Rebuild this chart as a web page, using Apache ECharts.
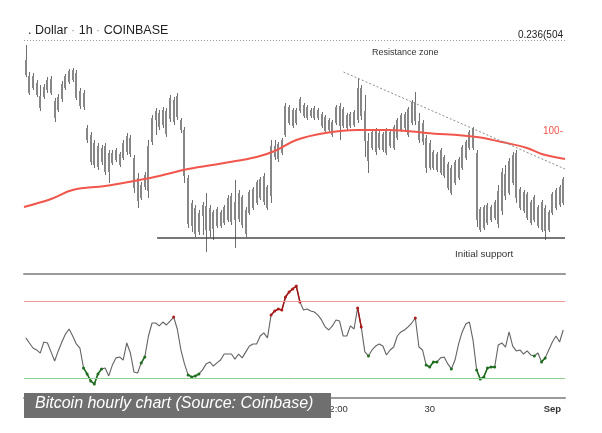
<!DOCTYPE html>
<html><head><meta charset="utf-8">
<script src="https://cdn.jsdelivr.net/npm/echarts@6/dist/echarts.min.js"></script>
<style>html,body{margin:0;padding:0;background:#fff}#c{width:602px;height:433px}</style>
</head><body><div id="c"></div>
<script>
// ---- data (hourly bars) ----
const opens = [
5026,4993,5010,5003,4990,4989,4996,5007,4985,4976,
4987,4998,5004,5016,5013,4995,4979,4958,4951,4921,
4940,4924,4940,4914,4933,4926,4932,4928,4934,4948,
4928,4908,4888,4899,4895,4944,4966,4973,4961,4975,
4967,4986,4969,4966,4956,4908,4860,4878,4854,4870,
4880,4855,4874,4860,4874,4863,4866,4890,4866,4867,
4889,4876,4873,4878,4883,4888,4910,4878,4890,4940,
4927,4933,4951,4979,4960,4963,4975,4981,4968,4976,
4968,4976,4972,4969,4956,4964,4963,4980,4960,4971,
4960,4961,4966,4998,4975,4945,4938,4956,4938,4952,
4933,4954,4938,4948,4956,4972,4951,4963,4984,4965,
4944,4948,4918,4934,4916,4936,4910,4922,4893,4903,
4908,4918,4928,4938,4957,4933,4856,4879,4863,4879,
4868,4862,4875,4912,4893,4903,4933,4897,4875,4892,
4884,4866,4879,4856,4878,4856,4873,4878,4899,4883];
const closes = [
5011,5010,4998,4991,4978,4999,5006,4993,4968,4989,
5002,5010,5015,5006,4988,4980,4993,4946,4924,4943,
4919,4938,4914,4933,4923,4936,4921,4943,4950,4932,
4898,4885,4901,4911,4940,4968,4975,4959,4976,4952,
4988,4964,4990,4956,4910,4862,4883,4852,4873,4881,
4856,4878,4857,4877,4860,4879,4888,4864,4884,4893,
4861,4852,4894,4897,4904,4907,4884,4899,4940,4929,
4942,4946,4980,4963,4976,4976,4987,4970,4979,4970,
4978,4968,4960,4955,4966,4951,4979,4960,4977,4958,
4972,4974,4998,4970,4945,4925,4954,4934,4953,4936,
4956,4940,4959,4966,4971,4958,4977,4984,4965,4946,
4963,4918,4943,4918,4932,4913,4929,4898,4918,4924,
4927,4939,4944,4954,4938,4866,4877,4858,4881,4866,
4884,4895,4914,4890,4925,4931,4888,4878,4894,4868,
4863,4889,4860,4884,4855,4874,4892,4896,4881,4907];
const lows = [
5009,4991,4996,4989,4975,4987,4993,4991,4964,4974,
4984,4996,5002,5004,4986,4977,4976,4943,4921,4918,
4916,4921,4911,4903,4921,4924,4919,4926,4931,4929,
4893,4878,4886,4896,4888,4941,4951,4956,4958,4949,
4964,4961,4966,4953,4903,4858,4854,4849,4851,4851,
4834,4849,4846,4858,4858,4861,4864,4861,4838,4864,
4858,4849,4871,4876,4881,4886,4881,4876,4883,4926,
4924,4931,4949,4961,4958,4961,4973,4968,4966,4968,
4966,4966,4958,4953,4954,4949,4961,4946,4958,4956,
4958,4959,4963,4966,4929,4913,4936,4931,4936,4934,
4931,4938,4936,4946,4954,4956,4949,4961,4961,4943,
4941,4913,4916,4916,4914,4911,4908,4896,4891,4901,
4906,4916,4926,4936,4936,4859,4854,4856,4861,4864,
4866,4858,4871,4886,4891,4901,4883,4876,4873,4866,
4861,4864,4858,4854,4846,4854,4871,4876,4879,4881];
const highs = [
5041,5014,5013,5006,5001,5002,5009,5010,4988,4992,
5005,5012,5017,5018,5016,4998,4996,4961,4954,4946,
4943,4941,4943,4936,4936,4938,4934,4946,4953,4951,
4931,4913,4904,4914,4946,4971,4978,4976,4979,4978,
4991,4989,4993,4968,4959,4911,4886,4881,4876,4884,
4893,4881,4876,4879,4876,4881,4891,4893,4906,4896,
4891,4879,4896,4899,4906,4909,4913,4901,4946,4946,
4944,4948,4983,4981,4978,4978,4989,4983,4981,4978,
4980,4978,4974,4971,4968,4966,4981,4983,4979,4973,
4974,4976,5008,5001,4991,4953,4956,4958,4956,4954,
4958,4956,4961,4968,4973,4974,4979,4986,4994,4973,
4966,4951,4946,4936,4934,4938,4931,4924,4921,4926,
4929,4941,4946,4956,4959,4936,4879,4881,4883,4881,
4886,4901,4918,4921,4928,4934,4936,4899,4896,4894,
4886,4891,4881,4886,4881,4876,4894,4898,4901,4909];
const rsi = [
51.0,48.4,45.8,44.8,43.2,48.9,48.4,43.8,39.1,44.3,
48.9,53.0,55.6,52.0,47.9,45.8,35.5,32.4,28.8,27.2,
32.4,35.0,35.5,31.4,37.0,40.7,41.2,39.6,48.4,43.2,
33.4,32.9,38.1,41.2,52.0,58.7,58.7,57.2,59.2,57.7,
59.7,61.8,55.6,44.8,37.6,31.9,30.9,31.4,32.4,34.5,
37.6,38.6,36.5,38.1,39.6,42.7,42.7,42.7,40.1,42.7,
40.7,43.8,46.8,47.9,47.9,52.0,53.6,51.0,62.8,64.9,
65.9,65.4,72.1,74.7,76.3,77.8,69.6,65.4,65.9,64.9,
64.4,62.8,60.3,56.7,55.1,57.2,60.3,59.7,52.0,52.0,
57.2,55.6,66.5,56.7,43.8,41.7,44.8,46.8,47.9,46.8,
42.2,44.8,46.3,52.0,54.1,55.1,56.7,58.7,61.3,46.3,
44.8,37.0,36.0,38.6,38.6,40.7,41.2,37.6,35.0,39.6,
47.9,54.1,58.2,59.2,49.9,34.5,29.8,30.9,35.5,36.0,
36.0,47.4,48.4,46.3,54.1,46.8,44.3,44.8,42.7,44.3,
42.2,41.7,43.2,38.6,40.7,44.8,48.9,52.0,48.9,55.1];
// RSI extremes highlighted by the indicator
const rsiRedIdx = [41,68,69,70,71,72,73,74,75,76,92,93,108];
const rsiGreenIdx = [16,17,18,19,20,21,32,33,45,46,47,48,95,111,112,113,114,118,125,126,127,128,129,130,141,143,144];
// 100-hour moving average (bar index, price)
const maIdx = [-0.5,7,13,22,30,37,45,55,64,69,75,83,92,101,111,125,132,139,143,149.5];
const maVal = [4879,4887,4896,4900,4905,4910,4917,4923,4929,4935,4946,4953,4956,4956,4953,4949,4944,4938,4932,4927];
// drawn trend lines (bar index, price)
const resistIdx = [88.1,149.5], resistVal = [5014,4917];
const supportIdx = [36.4,149.5], supportVal = [4848,4848];
const fibLevel = 5046;
const rsiUpper = 70, rsiLower = 30;
// x-axis tick labels
const tickIndex = [86,112,146];
const tickText = ['12:00','30','Sep'];

const N = opens.length;
const categories = opens.map((_, i) => 'h' + i);
const ohlc = opens.map((o, i) => [i, o, closes[i], lows[i], highs[i]]);
const pairs = (xs, ys) => xs.map((x, i) => [x, ys[i]]);
const rsiRed = rsi.map((v, i) => rsiRedIdx.includes(i) ? v : null);
const rsiGreen = rsi.map((v, i) => rsiGreenIdx.includes(i) ? v : null);

const BAR = '#878787', WICK = '#6f6f6f';
function renderBar(params, api) {
  const i = api.value(0);
  const o = api.value(1), c = api.value(2), l = api.value(3), h = api.value(4);
  const pH = api.coord([i, h]), pL = api.coord([i, l]);
  const pO = api.coord([i, o]), pC = api.coord([i, c]);
  const x = Math.round(pH[0]);
  const top = Math.round(Math.min(pO[1], pC[1])), bot = Math.round(Math.max(pO[1], pC[1]));
  return {type: 'group', children: [
    {type: 'rect', shape: {x: x, y: Math.round(pH[1]), width: 1, height: Math.round(pL[1] - pH[1])}, style: {fill: WICK}},
    {type: 'rect', shape: {x: x - 1, y: top, width: 2, height: Math.max(1, bot - top)}, style: {fill: BAR}}
  ]};
}

const FONT = 'Liberation Sans';
const chart = echarts.init(document.getElementById('c'), null, {renderer: 'canvas'});
chart.setOption({
  animation: false,
  backgroundColor: '#ffffff',
  textStyle: {fontFamily: FONT},
  title: {
    text: '. Dollar {d|·} 1h {d|·} COINBASE',
    left: 23, top: 19,
    textStyle: {fontSize: 12.5, fontWeight: 'normal', color: '#222', fontFamily: FONT,
      rich: {d: {color: '#999', fontSize: 12.5, fontFamily: FONT}}}
  },
  grid: [
    {left: 24, width: 541, top: 30, height: 240},
    {left: 24, width: 541, top: 274, height: 124}
  ],
  xAxis: [
    {type: 'category', gridIndex: 0, data: categories, show: false},
    {type: 'value', gridIndex: 0, min: -0.5, max: N - 0.5, show: false},
    {type: 'category', gridIndex: 1, data: categories, position: 'bottom',
      axisLine: {lineStyle: {color: '#9a9a9a', width: 2}},
      axisTick: {show: false}, splitLine: {show: false},
      axisLabel: {
        interval: (idx) => tickIndex.includes(idx),
        margin: 6, fontSize: 9.5, color: '#333', fontFamily: FONT,
        formatter: (v, idx) => {
          const k = tickIndex.indexOf(idx);
          if (k < 0) return '';
          return tickText[k] === 'Sep' ? '{b|Sep}' : tickText[k];
        },
        rich: {b: {fontWeight: 'bold', fontSize: 9.5, color: '#333', fontFamily: FONT}}
      }},
    {type: 'category', gridIndex: 1, data: categories, position: 'top',
      axisLine: {lineStyle: {color: '#9a9a9a', width: 2}},
      axisTick: {show: false}, axisLabel: {show: false}, splitLine: {show: false}}
  ],
  yAxis: [
    {type: 'value', gridIndex: 0, min: 4816, max: 5056, show: false},
    {type: 'value', gridIndex: 1, min: 20, max: 84, show: false}
  ],
  series: [
    {type: 'custom', xAxisIndex: 0, yAxisIndex: 0, data: ohlc, renderItem: renderBar,
      encode: {x: 0, y: [1, 2, 3, 4]},
      markLine: {silent: true, symbol: ['none', 'none'],
        lineStyle: {color: '#9a9a9a', type: [1, 2], width: 1},
        label: {show: false},
        data: [{yAxis: fibLevel}]}
    },
    {type: 'line', xAxisIndex: 1, yAxisIndex: 0, data: pairs(maIdx, maVal), smooth: 0.4,
      showSymbol: false, lineStyle: {color: '#f0564c', width: 2}, z: 3},
    {type: 'line', xAxisIndex: 1, yAxisIndex: 0, data: pairs(resistIdx, resistVal),
      showSymbol: false, lineStyle: {color: '#8c8c8c', type: [2, 2], width: 1}, z: 3},
    {type: 'line', xAxisIndex: 1, yAxisIndex: 0, data: pairs(supportIdx, supportVal),
      showSymbol: false, lineStyle: {color: '#4a4a4a', width: 1.3}, z: 3},
    {type: 'line', xAxisIndex: 2, yAxisIndex: 1, data: rsi, showSymbol: false,
      lineStyle: {color: '#636363', width: 1.1},
      markLine: {silent: true, symbol: ['none', 'none'], label: {show: false},
        data: [
          {yAxis: rsiUpper, lineStyle: {color: '#f29a9a', width: 1, type: 'solid'}},
          {yAxis: rsiLower, lineStyle: {color: '#8fcf8f', width: 1, type: 'solid'}}
        ]}
    },
    {type: 'line', xAxisIndex: 2, yAxisIndex: 1, data: rsiRed, showSymbol: true, showAllSymbol: true,
      symbol: 'circle', symbolSize: 3, itemStyle: {color: '#b01c1c'},
      lineStyle: {color: '#a01818', width: 1.5}, z: 4},
    {type: 'line', xAxisIndex: 2, yAxisIndex: 1, data: rsiGreen, showSymbol: true, showAllSymbol: true,
      symbol: 'circle', symbolSize: 3, itemStyle: {color: '#1f6e1f'},
      lineStyle: {color: '#1f6e1f', width: 1.5}, z: 4}
  ],
  graphic: [
    {type: 'text', right: 39, top: 30, style: {text: '0.236(504', fill: '#222', font: '10px "Liberation Sans"'}},
    {type: 'text', left: 372, top: 48, style: {text: 'Resistance zone', fill: '#333', font: '9px "Liberation Sans"'}},
    {type: 'text', left: 455, top: 249, style: {text: 'Initial support', fill: '#333', font: '9.8px "Liberation Sans"'}},
    {type: 'text', left: 543, top: 126, style: {text: '100-', fill: '#f0564c', font: '10px "Liberation Sans"'}},
    {type: 'rect', left: 24, top: 393, shape: {width: 307, height: 25}, style: {fill: '#6f6f6f'}, z: 100},
    {type: 'text', left: 35, top: 396, z: 101,
      style: {text: 'Bitcoin hourly chart (Source: Coinbase)', fill: '#ffffff',
        font: 'italic 16px "Liberation Sans"', shadowColor: 'rgba(0,0,0,0.55)', shadowBlur: 1, shadowOffsetX: 1, shadowOffsetY: 1}}
  ]
});
</script>
</body></html>
